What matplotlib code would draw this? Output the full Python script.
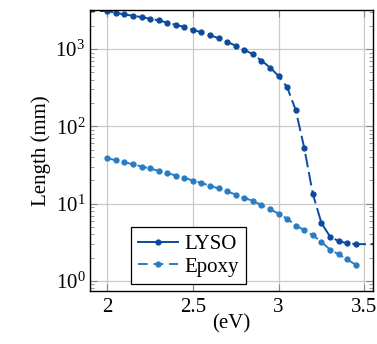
import matplotlib.pyplot as plt
from matplotlib.lines import Line2D
from matplotlib.ticker import LogLocator, NullFormatter

plt.rcParams['font.family'] = ['Liberation Serif', 'DejaVu Serif']
plt.rcParams['mathtext.fontset'] = 'stix'

# photon energy (eV), 0.05 steps
energy = [2.00, 2.05, 2.10, 2.15, 2.20, 2.25, 2.30, 2.35, 2.40, 2.45,
          2.50, 2.55, 2.60, 2.65, 2.70, 2.75, 2.80, 2.85, 2.90, 2.95,
          3.00, 3.05, 3.10, 3.15, 3.20, 3.25, 3.30, 3.35, 3.40, 3.45]

# attenuation length (mm)
lyso = [3100, 2940, 2800, 2690, 2590, 2460, 2350, 2190, 2060, 1920,
        1775, 1640, 1515, 1375, 1240, 1100, 980, 855, 710, 575,
        448, 320, 162, 52, 13.3, 5.6, 3.75, 3.27, 3.07, 2.99]
epoxy = [38.7, 36.4, 34.3, 32.3, 30.2, 28.5, 26.5, 24.9, 23.1, 21.5,
         19.9, 18.5, 17.0, 15.7, 14.4, 13.1, 11.9, 10.8, 9.6, 8.5,
         7.4, 6.4, 5.2, 4.55, 3.9, 3.2, 2.54, 2.21, 1.9, 1.62]

# LYSO curve runs on past the marked points at both ends
lyso_ev_ext = [1.85] + energy + [3.60]
lyso_ext = [3100] + lyso + [2.99]

c_lyso = '#0d4a9e'
c_epoxy = '#2a7cc2'

fig = plt.figure(figsize=(3.77, 3.44), dpi=100)
ax = fig.add_axes([0.239, 0.154, 0.75, 0.817])

ax.plot(lyso_ev_ext, lyso_ext, color=c_lyso, lw=1.4, dashes=(7, 2.5),
        marker='o', ms=3.5, markevery=slice(1, len(lyso_ext) - 1))
ax.plot(energy, epoxy, color=c_epoxy, lw=1.4, dashes=(5, 3),
        marker='o', ms=3.5)

ax.set_yscale('log')
ax.set_xlim(1.90, 3.55)
ax.set_ylim(0.74, 3200)
ax.set_xticks([2, 2.5, 3, 3.5])
ax.set_xticklabels(['2', '2.5', '3', '3.5'])
ax.yaxis.set_major_locator(LogLocator(base=10, numticks=10))
ax.yaxis.set_minor_locator(LogLocator(base=10, subs=range(2, 10), numticks=20))
ax.yaxis.set_minor_formatter(NullFormatter())

ax.grid(True, which='major', color='#c8c8c8', lw=0.9)
ax.tick_params(which='both', direction='in', top=True, right=True,
               labelsize=15, color='#888888')
ax.tick_params(which='major', length=5)
ax.tick_params(which='minor', length=3)
ax.tick_params(axis='x', pad=5)
for s in ax.spines.values():
    s.set_linewidth(1.0)

ax.set_xlabel('(eV)', fontsize=15, labelpad=-2)
ax.set_ylabel('Length (mm)', fontsize=15, labelpad=3)

handles = [Line2D([], [], color=c_lyso, lw=1.4, marker='o', ms=3.5),
           Line2D([], [], color=c_epoxy, lw=1.4, marker='o', ms=3.5, dashes=(5, 3))]
leg = ax.legend(handles, ['LYSO', 'Epoxy'], loc='lower left',
                bbox_to_anchor=(0.144, 0.025), borderaxespad=0,
                fontsize=15, fancybox=False, framealpha=1,
                edgecolor='black', handlelength=1.9, handletextpad=0.3,
                labelspacing=0.15, borderpad=0.35)
leg.get_frame().set_linewidth(0.9)

fig.savefig('out.png', dpi=100)
